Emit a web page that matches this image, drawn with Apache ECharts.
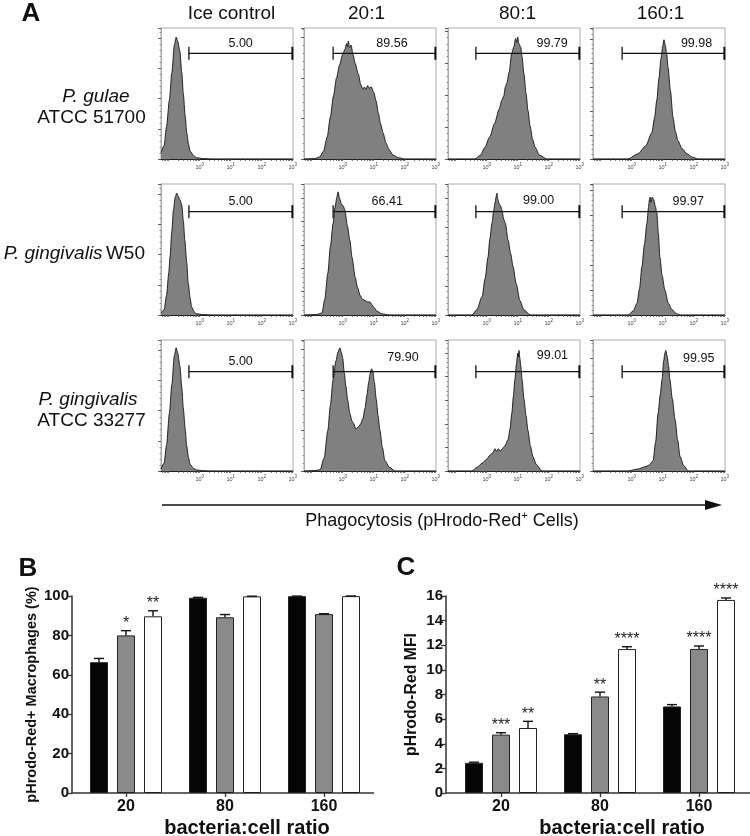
<!DOCTYPE html>
<html><head><meta charset="utf-8">
<script src="https://cdn.jsdelivr.net/npm/echarts@6/dist/echarts.min.js"></script>
<style>html,body{margin:0;padding:0;background:#fff}#chart{width:750px;height:836px}</style>
</head><body><div id="chart"></div>
<script>
// ---------- DATA: panel A histograms ([log10 fluorescence, % of max count]) ----------
const colHeaders = ['Ice control', '20:1', '80:1', '160:1'];
const gulaeIce = [[-1.25,5],[-1.15,10],[-1.07,25],[-0.98,45],[-0.9,66],[-0.82,87],[-0.76,93],[-0.71,90],[-0.64,82],[-0.58,66],[-0.53,50],[-0.47,33],[-0.42,20],[-0.36,11],[-0.31,6],[-0.2,2.5],[-0.1,1],[0.1,0.3],[0.4,0],[3.01,0]];
const gulae20 = [[-1.25,0],[-0.9,0.3],[-0.75,1.5],[-0.62,6],[-0.5,17],[-0.4,32],[-0.3,48],[-0.2,62],[-0.1,72],[0,80],[0.08,84],[0.12,88],[0.15,86],[0.18,90],[0.22,85],[0.27,87],[0.33,80],[0.4,73],[0.5,65],[0.58,57],[0.65,53],[0.7,55],[0.75,53],[0.8,56],[0.85,54],[0.92,55],[1.0,51],[1.08,44],[1.15,35],[1.22,27],[1.3,20],[1.4,12],[1.5,7],[1.62,3],[1.8,1],[2.0,0],[3.01,0]];
const gulae80 = [[-1.25,0],[-0.38,0],[-0.2,3],[-0.06,9],[0.1,17],[0.25,27],[0.4,38],[0.49,45],[0.55,48],[0.6,55],[0.65,58],[0.72,66],[0.81,81],[0.88,86],[0.93,92],[0.97,89],[1.0,93],[1.04,88],[1.1,85],[1.14,78],[1.2,65],[1.27,50],[1.33,37],[1.4,25],[1.48,15],[1.56,9],[1.7,3],[1.94,0],[3.01,0]];
const gulae160 = [[-1.25,0],[-0.12,0],[0.2,4],[0.45,10],[0.65,20],[0.74,32],[0.81,45],[0.88,62],[0.94,76],[1.0,86],[1.04,91],[1.08,87],[1.13,80],[1.17,70],[1.25,52],[1.33,32],[1.41,21],[1.49,14],[1.62,8],[1.78,4],[1.95,1.5],[2.14,0],[3.01,0]];
const w50Ice = [[-1.25,1.5],[-1.15,4],[-1.07,15],[-1.0,32],[-0.96,44],[-0.9,64],[-0.85,80],[-0.79,90],[-0.74,93],[-0.7,91],[-0.64,88],[-0.58,84],[-0.53,72],[-0.48,57],[-0.42,40],[-0.37,24],[-0.31,13],[-0.26,6],[-0.18,2.5],[-0.1,1],[0.1,0.3],[0.4,0],[3.01,0]];
const w5020 = [[-1.25,0],[-0.85,0.3],[-0.67,1.5],[-0.58,12],[-0.48,32],[-0.4,52],[-0.31,70],[-0.25,82],[-0.19,90],[-0.15,94],[-0.1,89],[-0.05,85],[0.02,83],[0.07,80],[0.15,68],[0.23,57],[0.3,44],[0.4,29],[0.48,21],[0.56,15],[0.64,12],[0.72,11],[0.8,10],[0.88,10],[0.94,8],[1.0,6],[1.1,3],[1.25,1],[1.5,0],[3.01,0]];
const w5080 = [[-1.25,0],[-0.48,0],[-0.32,4],[-0.15,14],[-0.05,28],[0.04,44],[0.1,58],[0.17,70],[0.22,79],[0.27,86],[0.31,91],[0.33,93],[0.36,88],[0.4,85],[0.45,83],[0.49,80],[0.55,73],[0.6,70],[0.69,57],[0.77,47],[0.85,37],[0.95,24],[1.07,11],[1.2,4],[1.4,0],[3.01,0]];
const w50160 = [[-1.25,0],[-0.12,0],[0.05,3],[0.17,9],[0.25,20],[0.33,37],[0.41,54],[0.49,70],[0.54,82],[0.57,88],[0.59,90],[0.62,86],[0.66,90],[0.71,88],[0.76,83],[0.81,78],[0.86,62],[0.91,44],[0.98,30],[1.07,19],[1.18,9],[1.3,4],[1.45,1],[1.56,0],[3.01,0]];
const atccIce = [[-1.25,1.5],[-1.15,6],[-1.07,20],[-0.98,44],[-0.9,66],[-0.82,88],[-0.76,94],[-0.71,90],[-0.64,80],[-0.58,64],[-0.53,48],[-0.47,32],[-0.42,19],[-0.36,10],[-0.31,5],[-0.2,2],[-0.1,0.8],[0.1,0.2],[0.4,0],[3.01,0]];
const atcc20 = [[-1.25,0],[-0.9,0.3],[-0.73,1],[-0.6,10],[-0.48,31],[-0.4,50],[-0.31,70],[-0.22,84],[-0.15,91],[-0.09,94],[-0.04,90],[0.0,86],[0.05,75],[0.1,65],[0.16,54],[0.23,44],[0.3,38],[0.36,36],[0.42,32],[0.46,33],[0.52,34],[0.58,36],[0.65,40],[0.72,48],[0.78,58],[0.84,68],[0.88,74],[0.93,78],[0.97,76],[1.02,68],[1.08,55],[1.14,42],[1.2,31],[1.28,18],[1.36,8],[1.5,3],[1.68,0],[3.01,0]];
const atcc80 = [[-1.25,0],[-0.48,0],[-0.3,3],[-0.15,6],[0.0,9],[0.1,12],[0.2,14],[0.27,17],[0.32,15],[0.38,17],[0.44,15],[0.5,17],[0.58,19],[0.69,24],[0.75,32],[0.81,44],[0.86,57],[0.91,70],[0.96,82],[1.0,90],[1.02,87],[1.04,92],[1.07,86],[1.1,80],[1.14,70],[1.2,55],[1.27,42],[1.33,31],[1.41,19],[1.49,11],[1.6,5],[1.78,0],[3.01,0]];
const atcc160 = [[-1.25,0],[-0.12,0],[0.2,1.5],[0.4,3],[0.52,4],[0.62,6],[0.69,8],[0.77,22],[0.85,44],[0.92,58],[0.98,70],[1.03,84],[1.07,90],[1.1,92],[1.14,88],[1.19,80],[1.23,70],[1.31,55],[1.4,39],[1.48,24],[1.56,11],[1.68,4],[1.82,0],[3.01,0]];
const gulaeGateLabels = ['5.00', '89.56', '99.79', '99.98'];
const w50GateLabels = ['5.00', '66.41', '99.00', '99.97'];
const atccGateLabels = ['5.00', '79.90', '99.01', '99.95'];
const gateStarts = [-0.35, -0.31, -0.35, -0.31];
const gateEnd = 2.99;
const logTickLabels = [0, 1, 2, 3];

// ---------- DATA: panels B and C ----------
const ratioCategories = ['20', '80', '160'];
const pctW50 = [66.4, 99.1, 99.9];
const pctW50Err = [1.9, 0.2, 0.05];
const pct33277 = [80.0, 89.2, 90.8];
const pct33277Err = [2.4, 1.4, 0.2];
const pctGulae = [89.7, 99.8, 99.95];
const pctGulaeErr = [2.8, 0.1, 0.05];
const sigPctW50 = [0, 0, 0];
const sigPct33277 = [1, 0, 0];
const sigPctGulae = [2, 0, 0];
const mfiW50 = [2.45, 4.77, 7.03];
const mfiW50Err = [0.05, 0.05, 0.15];
const mfi33277 = [4.74, 7.84, 11.7];
const mfi33277Err = [0.16, 0.35, 0.24];
const mfiGulae = [5.28, 11.69, 15.68];
const mfiGulaeErr = [0.54, 0.19, 0.16];
const sigMfiW50 = [0, 0, 0];
const sigMfi33277 = [3, 2, 4];
const sigMfiGulae = [2, 4, 4];

// ---------- LAYOUT ----------
const FONT = "'Liberation Sans', Arial, Helvetica, sans-serif";
const COL_LEFT = [161, 304, 448, 593], ROW_TOP = [28, 184, 340], PW = 132, PH = 131;
const LOG_MIN = -1.25, LOG_MAX = 3.01;
const yTickStep = [[23, 31, 24.4, 18.3], [23, 17.8, 22.3, 19], [23, 31, 18, 28.7]];
const gateLevel = [80.7, 78.9, 75.8];
const gateLabelShift = [[0, 7.7, 24.5, 23.3], [0, 3, 11, 15], [0, 18.7, 24.8, 25.5]];
const gateLabelLift = [[9.5, 9.5, 10, 10], [10.3, 10.5, 10.7, 10.5], [10.3, 14.5, 16.3, 13]];

const hists = [[gulaeIce, gulae20, gulae80, gulae160], [w50Ice, w5020, w5080, w50160], [atccIce, atcc20, atcc80, atcc160]];
const gateLabels = [gulaeGateLabels, w50GateLabels, atccGateLabels];

const logTicks = [];
for (let d = -2; d <= 3; d++) for (let k = 1; k <= 9; k++) {
  const v = d + Math.log10(k);
  if (v >= LOG_MIN && v <= LOG_MAX) logTicks.push(v);
}

const grids = [], xAxes = [], yAxes = [], series = [];
for (let r = 0; r < 3; r++) for (let c = 0; c < 4; c++) {
  const idx = grids.length;
  grids.push({left: COL_LEFT[c], top: ROW_TOP[r], width: PW, height: PH, show: true,
    borderColor: '#a9a9a9', borderWidth: 1, backgroundColor: 'transparent', containLabel: false, outerBoundsMode: 'none'});
  xAxes.push({gridIndex: idx, type: 'value', min: LOG_MIN, max: LOG_MAX,
    axisLine: {show: true, onZero: false, lineStyle: {color: '#222', width: 1}},
    axisTick: {show: true, customValues: logTicks, length: 2, lineStyle: {color: '#444', width: 0.7}},
    axisLabel: {show: true, customValues: logTickLabels, margin: 3, color: '#444',
      formatter: v => '{b|10}{s|' + v + '}',
      rich: {b: {fontSize: 5.5, fontFamily: FONT, color: '#444', lineHeight: 8, verticalAlign: 'bottom'},
             s: {fontSize: 4.5, fontFamily: FONT, color: '#444', lineHeight: 5, verticalAlign: 'top'}}},
    splitLine: {show: false}});
  yAxes.push({gridIndex: idx, type: 'value', min: 0, max: 100, interval: yTickStep[r][c],
    axisLine: {show: true, onZero: false, lineStyle: {color: '#a9a9a9', width: 1}},
    axisTick: {show: true, length: 3, lineStyle: {color: '#333', width: 0.8}},
    minorTick: {show: true, splitNumber: 5, length: 1.5, lineStyle: {color: '#555', width: 0.6}},
    axisLabel: {show: false}, splitLine: {show: false}});
  series.push({type: 'line', xAxisIndex: idx, yAxisIndex: idx, data: hists[r][c],
    showSymbol: false, smooth: 0.25, smoothMonotone: 'x', silent: true,
    lineStyle: {color: '#111', width: 0.9},
    areaStyle: {color: '#808080', opacity: 1}});
  const label = gateLabels[r][c], shift = gateLabelShift[r][c], lift = gateLabelLift[r][c];
  series.push({type: 'custom', xAxisIndex: idx, yAxisIndex: idx, z: 4, silent: true,
    data: [[gateStarts[c], gateEnd, gateLevel[r]]], encode: {x: [0, 1], y: 2},
    renderItem: (params, api) => {
      const a = api.coord([api.value(0), api.value(2)]);
      const b = api.coord([api.value(1), api.value(2)]);
      const st = {stroke: '#111', lineWidth: 1.3};
      return {type: 'group', children: [
        {type: 'line', shape: {x1: a[0], y1: a[1], x2: b[0], y2: b[1]}, style: st},
        {type: 'line', shape: {x1: a[0], y1: a[1] - 6.5, x2: a[0], y2: a[1] + 6.5}, style: st},
        {type: 'line', shape: {x1: b[0], y1: b[1] - 6.5, x2: b[0], y2: b[1] + 6.5}, style: {stroke: '#111', lineWidth: 2}},
        {type: 'text', style: {text: label, x: (a[0] + b[0]) / 2 + shift, y: a[1] - lift,
          align: 'center', verticalAlign: 'middle', fontSize: 12.5, fontFamily: FONT, fill: '#111'}}
      ]};
    }});
}

// ---------- Panels B and C ----------
const BAR_W = 18, BAR_GAP = 9;
const barColors = ['#050505', '#8a8a8a', '#ffffff'];
const axisColor = '#333';
function barPanel(cfg) {
  const gi = grids.length;
  grids.push({left: cfg.left, top: 596, width: 297, height: 197, containLabel: false, outerBoundsMode: 'none'});
  xAxes.push({gridIndex: gi, type: 'category', data: ratioCategories,
    axisLine: {show: false},
    axisTick: {show: true, alignWithLabel: true, length: 4, lineStyle: {color: axisColor, width: 1.3}},
    axisLabel: {margin: 6, fontSize: 16, fontWeight: 'bold', fontFamily: FONT, color: '#111'},
    name: 'bacteria:cell ratio', nameLocation: 'middle', nameGap: 25,
    nameTextStyle: {fontSize: 20, fontWeight: 'bold', fontFamily: FONT, color: '#111', padding: [0, 0, 0, 44]},
    splitLine: {show: false}});
  yAxes.push({gridIndex: gi, type: 'value', min: 0, max: cfg.max, interval: cfg.interval, offset: cfg.offset,
    axisLine: {show: true, onZero: false, lineStyle: {color: axisColor, width: 1.5}},
    axisTick: {show: true, length: 5, lineStyle: {color: axisColor, width: 1.3}},
    axisLabel: {margin: 3, fontSize: 15, fontWeight: 'bold', fontFamily: FONT, color: '#111'},
    name: cfg.yName, nameLocation: 'middle', nameGap: cfg.nameGap,
    nameTextStyle: {fontSize: cfg.nameSize, fontWeight: 'bold', fontFamily: FONT, color: '#111'},
    splitLine: {show: false}});
  // axis-line-only grid so the x axis line starts at the y axis
  const li = grids.length;
  grids.push({left: cfg.lineLeft, top: 596, width: cfg.lineWidth, height: 197, containLabel: false, outerBoundsMode: 'none'});
  xAxes.push({gridIndex: li, type: 'value', min: 0, max: 1, axisLine: {show: true, onZero: false, lineStyle: {color: axisColor, width: 1.5}},
    axisTick: {show: false}, axisLabel: {show: false}, splitLine: {show: false}});
  yAxes.push({gridIndex: li, type: 'value', min: 0, max: 1, show: false});

  const offsets = [-(BAR_W + BAR_GAP), 0, BAR_W + BAR_GAP];
  cfg.values.forEach((vals, s) => {
    series.push({type: 'bar', xAxisIndex: gi, yAxisIndex: gi, data: vals, barWidth: BAR_W, barGap: '50%',
      silent: true, itemStyle: {color: barColors[s], borderColor: '#222', borderWidth: 1}});
  });
  cfg.values.forEach((vals, s) => {
    const errs = cfg.errs[s], sigs = cfg.sigs[s], off = offsets[s];
    series.push({type: 'custom', xAxisIndex: gi, yAxisIndex: gi, z: 5, silent: true,
      data: vals.map((v, i) => [i, v, errs[i], sigs[i]]), encode: {x: 0, y: 1},
      renderItem: (params, api) => {
        const i = api.value(0), v = api.value(1), e = api.value(2), n = api.value(3);
        const p0 = api.coord([i, v]), p1 = api.coord([i, v + e]);
        const x = p0[0] + off;
        const st = {stroke: '#111', lineWidth: 1.4};
        const ch = [
          {type: 'line', shape: {x1: x, y1: p0[1], x2: x, y2: p1[1]}, style: st},
          {type: 'line', shape: {x1: x - 5, y1: p1[1], x2: x + 5, y2: p1[1]}, style: st}
        ];
        if (n > 0) ch.push({type: 'text', style: {text: '*'.repeat(n), x: x, y: p1[1] + 1,
          align: 'center', verticalAlign: 'bottom', fontSize: 16, fontFamily: FONT, fill: '#222'}});
        return {type: 'group', children: ch};
      }});
  });
}
barPanel({left: 76.5, offset: 4.5, lineLeft: 72, lineWidth: 301.5, max: 100, interval: 20,
  yName: 'pHrodo-Red+ Macrophages (%)', nameGap: 33, nameSize: 14.5,
  values: [pctW50, pct33277, pctGulae], errs: [pctW50Err, pct33277Err, pctGulaeErr], sigs: [sigPctW50, sigPct33277, sigPctGulae]});
barPanel({left: 451.5, offset: 5.5, lineLeft: 446, lineWidth: 304, max: 16, interval: 2,
  yName: 'pHrodo-Red MFI', nameGap: 26, nameSize: 15.8,
  values: [mfiW50, mfi33277, mfiGulae], errs: [mfiW50Err, mfi33277Err, mfiGulaeErr], sigs: [sigMfiW50, sigMfi33277, sigMfiGulae]});

// ---------- text / decorations ----------
const headerX = [231.5, 366.5, 517.5, 660.5];
const graphic = [];
function txt(x, y, text, opts) {
  graphic.push({type: 'text', x: x, y: y, silent: true, style: Object.assign({text: text, fontFamily: FONT, fill: '#111',
    align: 'center', verticalAlign: 'middle'}, opts || {})});
}
txt(31, 14, 'A', {fontSize: 26, fontWeight: 'bold'});
txt(28, 569, 'B', {fontSize: 26, fontWeight: 'bold'});
txt(406, 568, 'C', {fontSize: 26, fontWeight: 'bold'});
colHeaders.forEach((h, i) => txt(headerX[i], 14, h, {fontSize: 19}));
txt(96, 97, 'P. gulae', {fontSize: 19, fontStyle: 'italic'});
txt(91.5, 118, 'ATCC 51700', {fontSize: 19});
txt(145, 254, '{i|P. gingivalis} {n|W50}', {align: 'right', rich: {
  i: {fontSize: 19, fontStyle: 'italic', fontFamily: FONT, fill: '#111'},
  n: {fontSize: 19, fontFamily: FONT, fill: '#111'}}});
txt(88, 400, 'P. gingivalis', {fontSize: 19, fontStyle: 'italic'});
txt(91.5, 421, 'ATCC 33277', {fontSize: 19});
graphic.push({type: 'line', silent: true, shape: {x1: 162, y1: 505, x2: 708, y2: 505}, style: {stroke: '#111', lineWidth: 1.5}});
graphic.push({type: 'polygon', silent: true, shape: {points: [[705, 500], [722, 505], [705, 510]]}, style: {fill: '#111'}});
txt(442, 521, '{a|Phagocytosis (pHrodo-Red}{s|+}{a| Cells)}', {rich: {
  a: {fontSize: 18, fontFamily: FONT, fill: '#111', lineHeight: 22},
  s: {fontSize: 11, fontFamily: FONT, fill: '#111', lineHeight: 12, verticalAlign: 'top'}}});

const chart = echarts.init(document.getElementById('chart'), null, {renderer: 'canvas'});
chart.setOption({
  backgroundColor: '#fff', animation: false,
  grid: grids, xAxis: xAxes, yAxis: yAxes, series: series, graphic: graphic
});
</script></body></html>
